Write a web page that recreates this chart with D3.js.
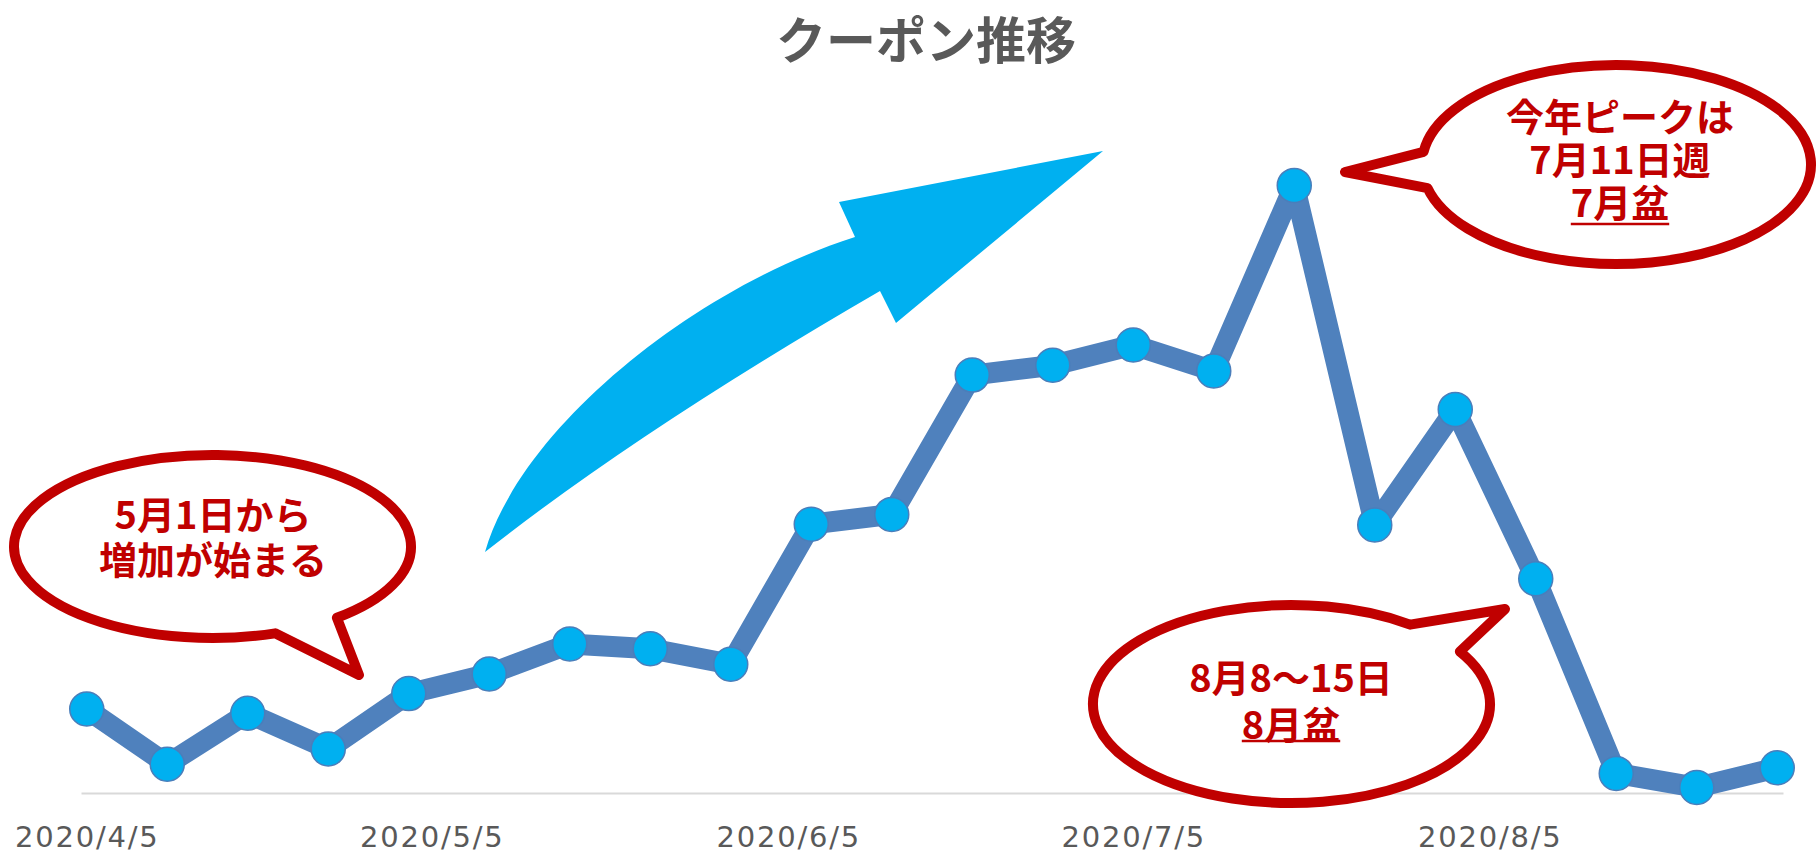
<!DOCTYPE html>
<html>
<head>
<meta charset="utf-8">
<script src="https://cdn.jsdelivr.net/npm/d3@7"></script>
<style>
  html, body { margin: 0; padding: 0; background: #ffffff; }
  svg { display: block; }
</style>
</head>
<body>
<svg id="chart" width="1820" height="856"></svg>
<script>
// ---- Data ----
const title = "クーポン推移";
const weeks = [
  "2020-04-05","2020-04-12","2020-04-19","2020-04-26","2020-05-03","2020-05-10",
  "2020-05-17","2020-05-24","2020-05-31","2020-06-07","2020-06-14","2020-06-21",
  "2020-06-28","2020-07-05","2020-07-12","2020-07-19","2020-07-26","2020-08-02",
  "2020-08-09","2020-08-16","2020-08-23","2020-08-30"
];
const coupons = [
  12.0, 4.1, 11.4, 6.3, 14.2, 17.0,
  21.3, 20.6, 18.4, 38.4, 39.8, 59.7,
  61.1, 64.0, 60.3, 86.8, 38.3, 54.8,
  30.6, 2.8, 0.8, 3.6
];
const tickDates = ["2020-04-05","2020-05-05","2020-06-05","2020-07-05","2020-08-05"];
const tickLabels = ["2020/4/5","2020/5/5","2020/6/5","2020/7/5","2020/8/5"];

const note1 = ["5月1日から", "増加が始まる"];
const note2 = ["今年ピークは", "7月11日週", "7月盆"];
const note3 = ["8月8〜15日", "8月盆"];

// ---- Setup ----
const parse = d3.utcParse("%Y-%m-%d");
const HALF_DAY = 12 * 3600 * 1000;
const svg = d3.select("#chart");
const data = weeks.map((w, i) => ({ date: parse(w), value: coupons[i] }));

const x = d3.scaleUtc()
  .domain([new Date(parse(weeks[0]).getTime() - HALF_DAY),
           new Date(parse(weeks[weeks.length - 1]).getTime() + HALF_DAY)])
  .range([81, 1783]);
const y = d3.scaleLinear().domain([0, 100]).range([793, 93]);

const JP = "'Noto Sans CJK JP', 'Noto Sans', sans-serif";
const RED = "#C00000";

// Title
svg.append("text")
  .attr("x", 926).attr("y", 59)
  .attr("text-anchor", "middle")
  .attr("font-family", JP)
  .attr("font-weight", "bold")
  .attr("font-size", 50)
  .attr("fill", "#595959")
  .text(title);

// Axis
const axis = d3.axisBottom(x)
  .tickValues(tickDates.map(parse))
  .tickFormat((d, i) => tickLabels[i])
  .tickSize(0)
  .tickSizeOuter(0);
const gx = svg.append("g").attr("transform", `translate(0,${y(0)})`).call(axis);
gx.select(".domain").attr("stroke", "#D9D9D9").attr("stroke-width", 2);
gx.selectAll(".tick text")
  .attr("dy", null)
  .attr("y", 54)
  .attr("font-family", "'DejaVu Sans', sans-serif")
  .attr("font-size", 29)
  .attr("letter-spacing", 1.8)
  .attr("fill", "#595959");

// Line
const line = d3.line().x(d => x(d.date)).y(d => y(d.value));
svg.append("path")
  .datum(data)
  .attr("d", line)
  .attr("fill", "none")
  .attr("stroke", "#4F81BD")
  .attr("stroke-width", 21)
  .attr("stroke-linejoin", "round");

svg.append("g").selectAll("circle")
  .data(data)
  .join("circle")
  .attr("cx", d => x(d.date))
  .attr("cy", d => y(d.value))
  .attr("r", 17)
  .attr("fill", "#00B0F0")
  .attr("stroke", "#4A7EBB")
  .attr("stroke-width", 1.5);

// Big trend arrow
const ap = d3.path();
ap.moveTo(485, 552);
ap.bezierCurveTo(520, 430, 690, 290, 855, 237);
ap.lineTo(839, 202);
ap.lineTo(1103, 151);
ap.lineTo(896, 323);
ap.lineTo(880, 291);
ap.quadraticCurveTo(640, 430, 485, 552);
ap.closePath();
svg.append("path").attr("d", ap.toString()).attr("fill", "#00B0F0");

// Callouts
function callout(cx, cy, rx, ry, tStart, tEnd, tip) {
  const P = t => [cx + rx * Math.cos(t * Math.PI / 180), cy + ry * Math.sin(t * Math.PI / 180)];
  const a = P(tStart), b = P(tEnd);
  const d = `M${a[0]},${a[1]} A${rx},${ry} 0 1 1 ${b[0]},${b[1]} L${tip[0]},${tip[1]} Z`;
  svg.append("path")
    .attr("d", d)
    .attr("fill", "#ffffff")
    .attr("stroke", RED)
    .attr("stroke-width", 10)
    .attr("stroke-linejoin", "round");
}
function noteText(lines, cx, ys, underlineLast, underlineY) {
  const txt = svg.append("text")
    .attr("text-anchor", "middle")
    .attr("font-family", JP)
    .attr("font-weight", "bold")
    .attr("font-size", 38)
    .attr("fill", RED);
  lines.forEach((t, i) => {
    const ts = txt.append("tspan")
      .attr("x", cx).attr("y", ys[i] + 14)
      .text(t);
    if (underlineLast && i === lines.length - 1) {
      const w = ts.node().getComputedTextLength();
      svg.append("line")
        .attr("x1", cx - w / 2).attr("x2", cx + w / 2)
        .attr("y1", underlineY).attr("y2", underlineY)
        .attr("stroke", RED).attr("stroke-width", 2.5);
    }
  });
}

callout(212.5, 546.5, 198.5, 91.5, 71.6, 51.2, [359, 675]);
noteText(note1, 213, [515, 560], false);

callout(1616.5, 164.5, 194.5, 99.5, 187.3, 166.3, [1345, 172]);
noteText(note2, 1620, [117, 160, 203], true, 224);

callout(1291.5, 704, 198.5, 99, 328, 306.7, [1505, 609]);
noteText(note3, 1291, [678, 725], true, 741);
</script>
</body>
</html>
